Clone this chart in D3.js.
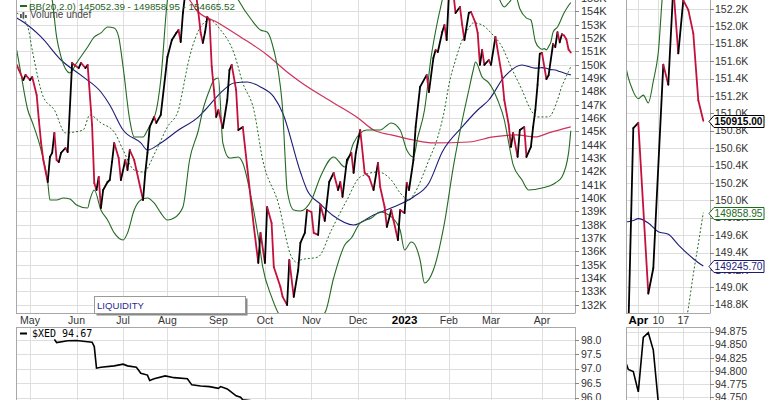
<!DOCTYPE html>
<html><head><meta charset="utf-8">
<script src="https://cdn.jsdelivr.net/npm/d3@7"></script>
<style>body{margin:0;background:#fff}svg{display:block}</style>
</head><body>
<svg id="c" width="770" height="400"></svg>
<script>
// ---------- DATA (trading-day index from 2 May 2022; values in thousands) ----------
const monthLabels = ["May","Jun","Jul","Aug","Sep","Oct","Nov","Dec","2023","Feb","Mar","Apr"];
const monthDays   = [0,21,42,62,85,106,127,148,169,189,208,231];
const zoomLabels  = ["Apr","10","17"];
const zoomDays    = [231,235,240];
const mainTicks   = [132,133,134,135,136,137,138,139,140,141,142,143,144,145,146,147,148,149,150,151,152,153,154,155];
const zoomTicks   = [148.8,149.0,149.2,149.4,149.6,149.8,150.0,150.2,150.4,150.6,150.8,151.0,151.2,151.4,151.6,151.8,152.0,152.2];
const xedTicks    = [95.5,96.0,96.5,97.0,97.5,98.0];
const xedZoomTicks= [94.725,94.75,94.775,94.8,94.825,94.85,94.875];

const priceDays = [-6,-5,-3,-2,0,1,3,4,5,6,8,9,10,11,12,13,14,16,17,19,20,22,23,25,26,28,29,30,31,32,33,35,36,37,38,40,41,43,44,45,47,48,51,52,53,54,56,57,59,62,64,66,67,68,69,70,72,74,75,76,77,78,79,80,81,82,83,84,85,87,89,90,91,93,94,96,98,101,103,104,106,107,109,110,113,114,116,117,119,121,122,124,125,127,128,130,131,133,135,137,139,140,141,143,145,146,147,149,151,153,155,157,158,160,161,163,164,166,167,169,170,171,173,174,176,179,180,182,183,184,186,187,188,189,191,192,194,195,196,198,199,201,202,203,204,205,207,208,210,213,214,216,217,218,220,221,223,224,226,227,228,229,230,231,233,234,236,237,238,239,240,241,242,243,244];
const priceVals = [150.0,149.61,148.86,149.24,148.86,149.09,147.74,145.86,144.14,142.86,141.21,143.09,143.39,144.89,142.86,142.71,143.39,143.76,143.46,150.14,149.99,149.76,150.14,149.76,149.99,145.5,141.14,140.61,141.59,139.26,140.61,141.21,141.36,142.71,144.14,143.01,141.36,142.86,142.11,143.61,142.86,142.11,139.86,141.89,143.39,145.34,146.09,145.64,146.24,150.59,151.86,152.39,152.61,151.71,153.89,155.3,156.0,155.6,155.2,153.89,152.39,151.64,152.46,153.59,153.36,149.84,148.11,146.09,146.61,145.26,147.36,149.61,149.99,148.11,145.11,145.34,142.34,137.84,135.14,137.39,135.14,139.34,138.14,134.84,133.34,132.59,131.99,135.36,132.59,134.61,136.64,137.39,139.11,138.96,137.39,137.24,139.5,138.29,141.21,141.89,140.61,141.21,140.09,142.86,143.39,141.89,143.39,145.11,141.89,141.59,140.61,142.64,140.84,139.34,137.84,139.11,138.36,136.86,139.11,138.89,141.14,140.61,142.86,145.34,148.34,149.24,147.96,150.51,151.11,150.96,152.46,152.99,151.86,155.3,155.4,153.89,154.34,152.99,151.86,153.89,153.96,153.14,152.39,149.99,151.11,149.99,150.36,149.99,152.09,149.09,147.36,145.49,143.84,144.89,143.09,145.11,145.34,143.09,143.84,145.34,146.61,148.5,150.83,150.89,148.93,149.22,151.56,151.33,152.45,151.69,152.3,152.19,151.92,151.15,150.915];

const bbUpDays = [-6,8,10,12,14,18,21,26,29,32,35,38,40,42,45,47,51,53,57,59,62,64,75,88,94,100,104,107,110,113,114,115,116,119,122,127,131,137,142,146,152,158,163,167,170,173,175,178,181,184,186,188,200,210,212,214,216,219,221,224,226,228,230,231,232,233,234,235,236,238,241,243,244];
const bbUpVals = [157.0,156.0,154.86,152.09,150.59,149.39,150.14,151.34,152.09,152.39,152.84,152.76,152.09,149.84,145.86,144.59,144.59,145.11,146.61,148.86,154.86,156.5,158.0,157.0,154.86,153.36,152.61,152.46,151.11,148.34,146.61,143.39,140.61,139.11,139.04,139.86,141.59,143.09,142.34,144.14,145.11,145.11,145.64,145.11,143.61,143.09,144.59,146.61,150.59,153.36,154.86,156.5,158.0,156.0,154.86,154.34,154.64,155.2,154.2,153.5,153.36,151.75,151.25,151.17,151.21,151.12,151.37,151.7,152.45,152.84,153.9,154.45,154.66552];

const bbMidDays = [-6,-1,1,6,11,16,20,24,27,32,38,42,47,51,57,62,67,68,72,77,81,86,92,96,101,105,112,118,121,122,130,136,143,149,157,163,167,171,173,180,184,187,189,192,195,198,200,204,208,213,217,222,226,229,234,238,240,241,242,243,244];
const bbMidVals = [153.9,152.84,151.11,147.59,146.61,144.89,144.96,145.11,146.24,145.64,144.96,143.61,142.11,141.96,143.61,145.34,146.61,147.36,150.59,152.84,153.36,152.61,150.89,148.64,146.61,142.86,139.64,135.59,135.14,135.36,135.59,137.61,139.86,141.59,141.96,141.36,140.39,139.86,140.24,142.86,144.59,146.61,148.49,150.36,151.86,152.76,153.14,152.99,152.39,151.34,149.84,148.11,146.61,146.09,146.09,147.36,148.4,148.76,149.15,149.5,149.85895];

const bbLowDays = [-6,-4,-1,1,5,8,9,12,15,18,21,26,27,29,32,35,38,42,44,47,50,53,56,59,62,65,69,72,76,78,81,83,85,87,90,94,96,100,103,105,109,112,116,122,128,133,137,142,145,149,154,158,163,167,169,172,173,176,178,182,187,191,196,198,200,201,204,207,209,211,214,216,218,222,225,231,237,240,243,244];
const bbLowVals = [151.11,149.24,146.61,145.71,143.61,141.21,139.86,139.86,140.01,139.94,139.49,139.26,139.86,140.61,139.11,138.36,137.39,136.86,137.39,139.11,139.86,140.01,139.64,138.89,138.36,138.51,139.34,142.86,145.11,146.61,148.11,148.86,149.01,144.14,143.01,143.09,142.64,139.86,137.09,134.84,132.59,131.39,130.8,130.6,130.9,131.39,134.01,136.49,137.01,138.14,138.51,138.96,138.59,137.61,136.11,136.71,136.64,135.36,133.64,134.61,138.14,142.34,146.61,148.11,149.61,150.21,149.09,148.64,148.11,147.36,145.86,144.14,142.49,141.36,140.61,140.76,141.14,141.59,143.39,145.05239];

const ma50Days = [-6,-3,5,14,24,32,36,42,50,53,59,67,76,79,86,92,98,104,110,114,122,125,131,137,146,155,164,173,180,186,195,202,207,214,222,228,230,231,233,235,237,239,241,242,244];
const ma50Vals = [153.51,153.21,152.09,150.36,149.09,147.96,146.99,145.11,144.14,143.61,144.14,145.11,146.09,146.61,147.89,148.64,148.71,148.34,147.59,146.39,141.96,140.61,139.56,138.66,137.99,138.74,139.34,140.09,141.14,143.46,145.34,146.61,147.36,149.09,149.99,149.75,149.77,149.79,149.74,149.64,149.61,149.49,149.38,149.33,149.2457];

const ma200Days = [60,72,75,85,95,107,116,122,137,148,155,163,173,182,198,209,219,228,234,244];
const ma200Vals = [156.0,154.86,154.11,153.14,152.09,150.74,149.46,148.71,147.14,146.01,145.11,144.74,144.36,144.14,144.21,144.59,144.74,144.59,144.89,145.34];

const xedDays = [11,12,17,21,26,28,29,30,32,38,42,44,48,50,53,54,56,61,65,71,73,77,81,85,86,89,90,93,95,96,228,229,230,231,232,233,234,235,244];
const xedVals = [98.02,97.91,97.97,97.98,97.94,97.92,97.77,97.02,97.05,97.10,97.16,97.10,97.05,96.84,96.78,96.59,96.65,96.75,96.69,96.65,96.44,96.40,96.38,96.32,96.38,96.30,96.24,96.06,96.01,95.92,94.83,94.803,94.799,94.76,94.864,94.873,94.84,94.74,94.67];

// ---------- STYLE ----------
const COL = {up:"#000000", down:"#c4103c", band:"#236b23", blue:"#1c1c78", ma:"#d0305c",
             grid:"#dedede", border:"#a8a8a8", text:"#333333"};
const FONT = "Liberation Sans, Arial, sans-serif";

const svg = d3.select("#c");
const defs = svg.append("defs");
const pts = (d, v) => d.map((x, i) => ({d: x, v: v[i]}));
const last = a => a[a.length - 1];
const fmt2 = d3.format(".2f");

const price = pts(priceDays, priceVals), up = pts(bbUpDays, bbUpVals), mid = pts(bbMidDays, bbMidVals),
      low = pts(bbLowDays, bbLowVals), m50 = pts(ma50Days, ma50Vals), m200 = pts(ma200Days, ma200Vals),
      xed = pts(xedDays, xedVals);

function panel(id, x, y, hTicks, vTicks) {
  const [x0, x1] = x.range(), [yb, yt] = y.range();
  defs.append("clipPath").attr("id", id).append("rect")
      .attr("x", x0).attr("y", Math.min(yt, yb)).attr("width", x1 - x0).attr("height", Math.abs(yb - yt));
  const g = svg.append("g");
  g.selectAll(null).data(hTicks).enter().append("line")
    .attr("x1", x0).attr("x2", x1).attr("y1", d => Math.round(y(d)) + .5).attr("y2", d => Math.round(y(d)) + .5)
    .attr("stroke", COL.grid);
  g.selectAll(null).data(vTicks).enter().append("line")
    .attr("y1", yt).attr("y2", yb).attr("x1", d => Math.round(x(d)) + .5).attr("x2", d => Math.round(x(d)) + .5)
    .attr("stroke", COL.grid);
  const c = svg.append("g").attr("clip-path", `url(#${id})`);
  return {g, c, x, y, x0, x1, yt, yb};
}
function curve(p, data, color, w, dash) {
  const l = d3.line().x(d => p.x(d.d)).y(d => p.y(d.v)).curve(d3.curveMonotoneX);
  p.c.append("path").attr("d", l(data)).attr("fill", "none").attr("stroke", color)
     .attr("stroke-width", w).attr("stroke-dasharray", dash || null);
}
function priceLine(p, data, w) {
  p.c.selectAll(null).data(d3.pairs(data)).enter().append("line")
    .attr("x1", d => p.x(d[0].d)).attr("y1", d => p.y(d[0].v))
    .attr("x2", d => p.x(d[1].d)).attr("y2", d => p.y(d[1].v))
    .attr("stroke", d => d[1].v >= d[0].v ? COL.up : COL.down)
    .attr("stroke-width", w).attr("stroke-linecap", "round");
}
function frame(p, top) {
  const g = svg.append("g").attr("fill", "none").attr("stroke", COL.border);
  g.append("line").attr("x1", p.x0 + .5).attr("x2", p.x0 + .5).attr("y1", p.yt).attr("y2", p.yb);
  g.append("line").attr("x1", p.x1 + .5).attr("x2", p.x1 + .5).attr("y1", p.yt).attr("y2", p.yb);
  if (top) g.append("line").attr("x1", p.x0).attr("x2", p.x1 + .5).attr("y1", p.yt + .5).attr("y2", p.yt + .5);
  else g.append("line").attr("x1", p.x0).attr("x2", p.x1 + .5).attr("y1", p.yb + .5).attr("y2", p.yb + .5);
}
function yLabels(p, ticks, fmt, lx, fs) {
  const g = svg.append("g").attr("font-family", FONT).attr("font-size", fs).attr("fill", COL.text);
  ticks.forEach(t => {
    const yy = p.y(t);
    g.append("line").attr("x1", p.x1).attr("x2", p.x1 + 4).attr("y1", Math.round(yy) + .5).attr("y2", Math.round(yy) + .5).attr("stroke", "#888");
    g.append("text").attr("x", lx).attr("y", yy).attr("dy", "0.35em").text(fmt(t));
  });
}

// ---------- MAIN PANEL ----------
const xMain = d3.scaleLinear().domain([-6.32, 245.9]).range([16, 575]);
const yMain = d3.scaleLinear().domain([131.385, 154.86]).range([313, 0]);
const pm = panel("clipMain", xMain, yMain, mainTicks, monthDays);
curve(pm, m200, COL.ma, 1.2);
curve(pm, m50, COL.blue, 1.1);
curve(pm, up, COL.band, 1.1);
curve(pm, low, COL.band, 1.1);
curve(pm, mid, COL.band, 1, "2,2");
priceLine(pm, price, 1.8);
frame(pm, false);
yLabels(pm, mainTicks, d => d + "K", 581, 11);

// ---------- ZOOM PANEL ----------
const xZoom = d3.scaleLinear().domain([228.54, 245.34]).range([626, 710]);
const yZoom = d3.scaleLinear().domain([148.706, 152.303]).range([313, 0]);
const pz = panel("clipZoom", xZoom, yZoom, zoomTicks, zoomDays);
curve(pz, m50, COL.blue, 1.1);
curve(pz, up, COL.band, 1.1);
curve(pz, mid, COL.band, 1, "2,2");
priceLine(pz, price, 1.8);
frame(pz, false);
yLabels(pz, zoomTicks, d => d3.format(".1f")(d) + "K", 715, 10.5);

// ---------- X AXIS LABELS ----------
const xa = svg.append("g").attr("font-family", FONT).attr("font-size", 10.5).attr("fill", COL.text).attr("text-anchor", "middle");
monthLabels.forEach((m, i) => xa.append("text").attr("x", xMain(monthDays[i])).attr("y", 324)
  .attr("font-weight", m === "2023" ? "bold" : null).attr("fill", m === "2023" ? "#000" : null).attr("font-size", m === "2023" ? 11.5 : null).text(m));
zoomLabels.forEach((m, i) => xa.append("text").attr("x", xZoom(zoomDays[i])).attr("y", 324)
  .attr("font-weight", m === "Apr" ? "bold" : null).attr("fill", m === "Apr" ? "#000" : null).attr("font-size", m === "Apr" ? 11.5 : null).text(m));

// ---------- XED PANELS ----------
const yX = d3.scaleLinear().domain([93.83, 98.45]).range([460, 327]);
const pb = panel("clipXed", xMain, yX, xedTicks, monthDays);
pb.c.append("path").attr("d", d3.line().x(d => xMain(d.d)).y(d => yX(d.v))(xed))
    .attr("fill", "none").attr("stroke", "#000").attr("stroke-width", 1.6);
frame(pb, true);
yLabels(pb, xedTicks, d => d3.format(".1f")(d), 581, 10.5);

const yXz = d3.scaleLinear().domain([94.630, 94.884]).range([460, 327]);
const pbz = panel("clipXedZ", xZoom, yXz, xedZoomTicks, zoomDays);
pbz.c.append("path").attr("d", d3.line().x(d => xZoom(d.d)).y(d => yXz(d.v))(xed))
    .attr("fill", "none").attr("stroke", "#000").attr("stroke-width", 1.6);
frame(pbz, true);
yLabels(pbz, xedZoomTicks, d => d3.format(".3f")(d), 715, 10.5);

// ---------- LEGENDS ----------
const lg = svg.append("g").attr("font-family", FONT);
lg.append("line").attr("x1", 20).attr("x2", 27).attr("y1", 6).attr("y2", 6).attr("stroke", COL.band).attr("stroke-width", 2);
lg.append("text").attr("x", 29).attr("y", 9.5).attr("font-size", 9.8).attr("fill", "#1d5e1d")
  .text("BB(20,2.0) " + fmt2(last(bbLowVals) * 1000) + " - " + fmt2(last(bbMidVals) * 1000) + " - " + fmt2(last(bbUpVals) * 1000));
[[20,4],[22.5,6],[25,3]].forEach(([bx,bh]) => lg.append("rect").attr("x", bx).attr("y", 18 - bh).attr("width", 1.8).attr("height", bh).attr("fill", "#555"));
lg.append("text").attr("x", 30).attr("y", 18).attr("font-size", 10).attr("fill", "#444").text("Volume undef");

lg.append("line").attr("x1", 20).attr("x2", 27).attr("y1", 333.5).attr("y2", 333.5).attr("stroke", "#000").attr("stroke-width", 2);
lg.append("text").attr("x", 32).attr("y", 337).attr("font-family", "DejaVu Sans Mono, monospace").attr("font-size", 10).attr("fill", "#000")
  .text("$XED " + fmt2(last(xedVals)));

// LIQUIDITY annotation box
const ab = svg.append("g");
ab.append("rect").attr("x", 96.5).attr("y", 298.5).attr("width", 151).attr("height", 17).attr("fill", "#888");
ab.append("rect").attr("x", 94.5).attr("y", 296.5).attr("width", 151).attr("height", 17).attr("fill", "#fff").attr("stroke", "#9a9a9a");
ab.append("text").attr("x", 97).attr("y", 309).attr("font-family", FONT).attr("font-size", 9.6).attr("fill", "#2a2a90").text("LIQUIDITY");

// ---------- VALUE TAGS ----------
function tag(v, color, bold) {
  const yy = Math.round(yZoom(v)) + .5;
  const g = svg.append("g");
  g.append("path").attr("d", `M709,${yy} L714,${yy-6} L764,${yy-6} L764,${yy+6} L714,${yy+6} Z`)
   .attr("fill", "#fff").attr("stroke", color);
  g.append("text").attr("x", 714.5).attr("y", yy).attr("dy", "0.36em").attr("font-family", FONT)
   .attr("font-size", 10).attr("font-weight", bold ? "bold" : null).attr("fill", color)
   .attr("textLength", 48).attr("lengthAdjust", "spacingAndGlyphs")
   .text(fmt2(v * 1000));
}
tag(last(ma50Vals), COL.blue, false);
tag(last(bbMidVals), "#1d6b1d", false);
tag(last(priceVals), "#000", true);
</script>
</body></html>
